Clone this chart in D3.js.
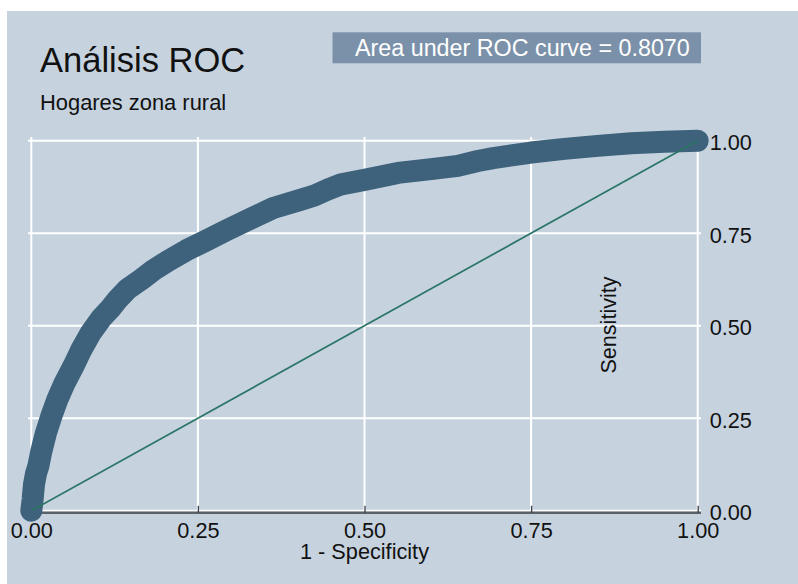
<!DOCTYPE html>
<html><head><meta charset="utf-8">
<script src="https://cdn.jsdelivr.net/npm/d3@7"></script>
<style>body{margin:0;background:#fff}svg{display:block;font-family:"Liberation Sans",Arial,sans-serif}</style>
</head><body>
<svg id="c" width="798" height="584"></svg>
<script>
const titleText = "Análisis ROC";
const subtitleText = "Hogares zona rural";
const aucLabel = "Area under ROC curve = 0.8070";
const xLabel = "1 - Specificity";
const yLabel = "Sensitivity";
const xTicks = [0, 0.25, 0.5, 0.75, 1];
const yTicks = [0, 0.25, 0.5, 0.75, 1];
// ROC curve points: 1 - specificity (fpr) and sensitivity (tpr)
const fpr = [0,0.002,0.004,0.007,0.0105,0.015,0.022,0.03,0.039,0.05,0.063,0.075,0.089,0.105,0.118,0.129,0.145,0.165,0.183,0.205,0.233,0.26,0.293,0.33,0.363,0.40,0.425,0.445,0.465,0.5,0.55,0.6,0.64,0.67,0.693,0.75,0.8,0.85,0.9,0.95,1];
const tpr = [0,0.03,0.07,0.10,0.12,0.16,0.21,0.255,0.30,0.345,0.39,0.435,0.48,0.52,0.545,0.57,0.60,0.625,0.65,0.675,0.704,0.728,0.758,0.79,0.818,0.838,0.852,0.868,0.882,0.894,0.913,0.923,0.932,0.945,0.953,0.968,0.978,0.986,0.993,0.997,1];
const refX = [0, 1];
const refY = [0, 1];

const svg = d3.select("#c");
const bg = "#c6d3df";
svg.append("rect").attr("x",7).attr("y",11).attr("width",791).attr("height",573).attr("fill",bg);

const x = d3.scaleLinear().domain([0,1]).range([31.3,697.7]);
const y = d3.scaleLinear().domain([0,1]).range([510.7,140.7]);

// grid
const g = svg.append("g");
g.selectAll(".vg").data(xTicks).join("line")
  .attr("x1",d=>x(d)).attr("x2",d=>x(d)).attr("y1",137).attr("y2",y(0))
  .attr("stroke","#fff").attr("stroke-width",2);
g.selectAll(".hg").data(yTicks).join("line")
  .attr("x1",28).attr("x2",701).attr("y1",d=>y(d)).attr("y2",d=>y(d))
  .attr("stroke","#fff").attr("stroke-width",2);

// x axis
const xa = svg.append("g").attr("transform","translate(0,512.8)")
  .call(d3.axisBottom(x).tickValues(xTicks).tickFormat(d3.format(".2f")).tickSizeInner(-7).tickSizeOuter(0).tickPadding(10));
xa.select(".domain").remove();
xa.insert("line",":first-child").attr("x1",28).attr("x2",701).attr("y1",0).attr("y2",0).attr("stroke","#5b6168").attr("stroke-width",2.4);
xa.selectAll(".tick line").attr("stroke","#3a3f45").attr("stroke-width",1.3);
xa.selectAll(".tick text").attr("font-size",21.7).attr("fill","#111").attr("font-family","Liberation Sans, Arial, sans-serif");

// y axis (right)
const ya = svg.append("g").attr("transform",`translate(${x(1)},0)`)
  .call(d3.axisRight(y).tickValues(yTicks).tickFormat(d3.format(".2f")).tickSize(0).tickPadding(12));
ya.select(".domain").remove();
ya.selectAll(".tick text").attr("font-size",21.7).attr("fill","#111").attr("dy","0.42em").attr("font-family","Liberation Sans, Arial, sans-serif");

// ROC curve
const pts = fpr.map((v,i)=>[v,tpr[i]]);
const line = d3.line().x(d=>x(d[0])).y(d=>y(d[1]));
svg.append("path").datum(pts).attr("d",line).attr("fill","none")
  .attr("stroke","#3e627c").attr("stroke-width",22).attr("stroke-linecap","round").attr("stroke-linejoin","round");

// reference line
svg.append("path").datum(refX.map((v,i)=>[v,refY[i]])).attr("d",line).attr("fill","none")
  .attr("stroke","#2b7566").attr("stroke-width",1.7);

// labels
svg.append("text").attr("x",x(0.5)).attr("y",559).attr("text-anchor","middle").attr("font-size",21.7).attr("fill","#111").text(xLabel);
svg.append("text").attr("transform","translate(616,325) rotate(-90)").attr("text-anchor","middle").attr("font-size",21.6).attr("fill","#111").text(yLabel);

svg.append("text").attr("x",40).attr("y",71.5).attr("font-size",34.5).attr("fill","#111").text(titleText);
svg.append("text").attr("x",40).attr("y",110).attr("font-size",21.9).attr("fill","#111").text(subtitleText);

svg.append("rect").attr("x",332.5).attr("y",32.3).attr("width",368.5).attr("height",31).attr("fill","#7b91a9");
svg.append("text").attr("x",355).attr("y",56).attr("font-size",23.3).attr("fill","#fff").text(aucLabel);
</script>
</body></html>
